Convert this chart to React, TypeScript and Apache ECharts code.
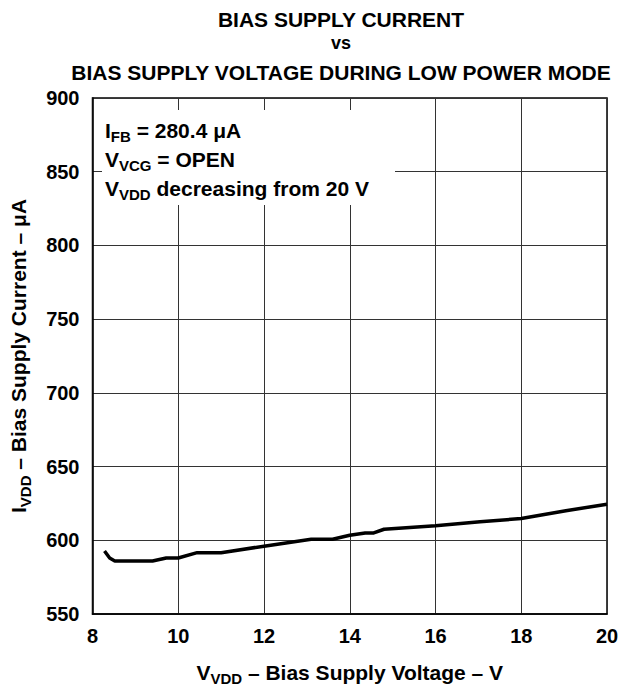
import React, { useEffect, useRef } from "react";
import * as echarts from "echarts";

const titleLines = ["BIAS SUPPLY CURRENT", "vs", "BIAS SUPPLY VOLTAGE DURING LOW POWER MODE"];
const voltage = [8.28, 8.4, 8.52, 9.4, 9.72, 10.0, 10.44, 11.0, 12.0, 13.1, 13.6, 14.0, 14.36, 14.56, 14.8, 16.0, 17.04, 18.0, 19.04, 20.0];
const current = [592.7, 588, 586, 586, 588, 588, 591.6, 591.6, 596, 600.7, 600.7, 603.4, 605, 605, 607.5, 609.8, 612.5, 614.8, 620, 624.5];
const xTicks = [8, 10, 12, 14, 16, 18, 20];
const yTicks = [550, 600, 650, 700, 750, 800, 850, 900];
const notes = [
  ["I", "FB", " = 280.4 μA"],
  ["V", "VCG", " = OPEN"],
  ["V", "VDD", " decreasing from 20 V"],
];

const FONT = "'Liberation Sans', Arial, sans-serif";

export default function App() {
  const ref = useRef<HTMLDivElement>(null);
  useEffect(() => {
    document.body.style.margin = "0";
    const chart = echarts.init(ref.current!, undefined, { renderer: "svg" });
    const rich = {
      m: { fontSize: 21, fontWeight: "bold", fontFamily: FONT, color: "#000" },
      s: { fontSize: 15, fontWeight: "bold", fontFamily: FONT, color: "#000", padding: [13, 0, 0, 0] },
    };
    const left = 91, right = 24, top = 98, bottom = 78;
    chart.setOption({
      animation: false,
      backgroundColor: "#fff",
      textStyle: { fontFamily: FONT },
      grid: { left, right, top, bottom, show: true, borderColor: "#000", borderWidth: 1.5, backgroundColor: "transparent" },
      xAxis: {
        type: "value",
        min: 8,
        max: 20,
        interval: 2,
        axisLine: { show: true, lineStyle: { color: "#000", width: 1.5 } },
        axisTick: { show: false },
        splitLine: { show: true, lineStyle: { color: "#333", width: 1 } },
        axisLabel: {
          fontSize: 20, fontWeight: "bold", color: "#000", fontFamily: FONT, margin: 12,
          formatter: (v: number) => (xTicks.includes(v) ? String(v) : ""),
        },
        name: "{m|V}{s|VDD}{m| – Bias Supply Voltage – V}",
        nameLocation: "middle",
        nameGap: 44,
        nameTextStyle: { rich },
      },
      yAxis: {
        type: "value",
        min: 550,
        max: 900,
        interval: 50,
        axisLine: { show: true, lineStyle: { color: "#000", width: 1.5 } },
        axisTick: { show: false },
        splitLine: { show: true, lineStyle: { color: "#333", width: 1 } },
        axisLabel: {
          fontSize: 20, fontWeight: "bold", color: "#000", fontFamily: FONT, margin: 13,
          formatter: (v: number) => (yTicks.includes(v) ? String(v) : ""),
        },
        name: "{m|I}{s|VDD}{m| – Bias Supply Current – μA}",
        nameLocation: "middle",
        nameGap: 60,
        nameTextStyle: { rich },
      },
      graphic: [
        ...titleLines.map((t, i) => ({
          type: "text",
          x: 341,
          y: [19, 43, 72][i],
          style: {
            text: t,
            align: "center",
            verticalAlign: "middle",
            fontSize: i === 1 ? 18 : 21,
            fontWeight: "bold",
            fontFamily: FONT,
            fill: "#000",
          },
        })),
        {
          type: "rect",
          shape: { x: 102, y: 110, width: 293, height: 95 },
          style: { fill: "#fff" },
          z: 5,
        },
        ...notes.map((n, i) => ({
          type: "text",
          x: 105,
          y: 116 + i * 29,
          z: 6,
          style: {
            text: `{m|${n[0]}}{s|${n[1]}}{m|${n[2]}}`,
            rich,
          },
        })),
      ],
      series: [
        {
          type: "line",
          data: voltage.map((v, i) => [v, current[i]]),
          showSymbol: false,
          lineStyle: { color: "#000", width: 3.5 },
          smooth: false,
          z: 10,
        },
      ],
    });
    return () => chart.dispose();
  }, []);
  return <div ref={ref} style={{ width: 631, height: 692 }} />;
}
